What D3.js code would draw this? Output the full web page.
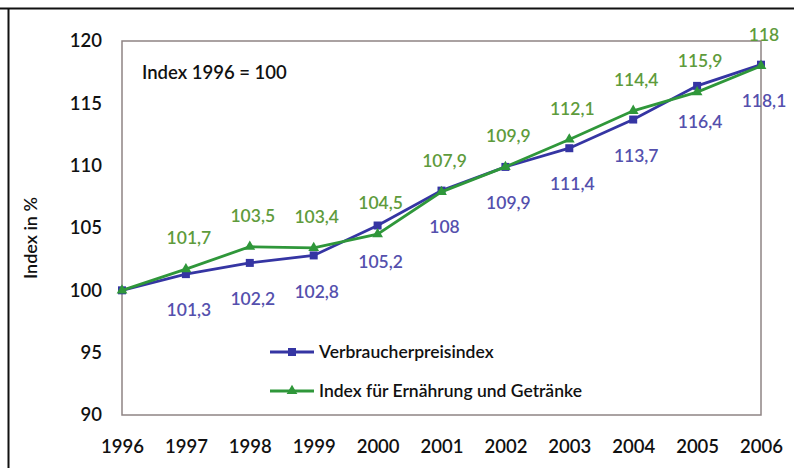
<!DOCTYPE html>
<html lang="de">
<head>
    <meta charset="UTF-8">
    <title>Verbraucherpreisindex 1996-2006</title>
    <script src="https://cdnjs.cloudflare.com/ajax/libs/d3/7.8.5/d3.min.js"></script>
    <style>
        body { margin: 0; background: #fff; }
        svg { display: block; font-family: Lato, "Open Sans", sans-serif; }
    </style>
</head>
<body>
    <svg id="chart" width="794" height="468"></svg>

    <script>
        // Data
        const years = ["1996", "1997", "1998", "1999", "2000", "2001", "2002", "2003", "2004", "2005", "2006"];
        const vpi = [100, 101.3, 102.2, 102.8, 105.2, 108, 109.9, 111.4, 113.7, 116.4, 118.1];
        const food = [100, 101.7, 103.5, 103.4, 104.5, 107.9, 109.9, 112.1, 114.4, 115.9, 118];
        const yTicks = [90, 95, 100, 105, 110, 115, 120];

        const series = [
            { name: "Verbraucherpreisindex", values: vpi, line: "#3535a3", text: "#5450ad", marker: "square", dy: 36 },
            { name: "Index für Ernährung und Getränke", values: food, line: "#2f973a", text: "#5e9b3c", marker: "triangle", dy: -31 }
        ];

        const svg = d3.select("#chart");
        const margin = { top: 41, right: 33, bottom: 53, left: 122 };
        const width = 794 - margin.left - margin.right;
        const height = 468 - margin.top - margin.bottom;

        // outer frame (top and left edge visible)
        svg.append("line").attr("x1", 0).attr("x2", 794).attr("y1", 8.5).attr("y2", 8.5)
            .attr("stroke", "#111").attr("stroke-width", 2);
        svg.append("line").attr("x1", 8.5).attr("x2", 8.5).attr("y1", 8).attr("y2", 468)
            .attr("stroke", "#111").attr("stroke-width", 2);

        const g = svg.append("g").attr("transform", `translate(${margin.left},${margin.top})`);

        const x = d3.scalePoint().domain(years).range([0, width]);
        const y = d3.scaleLinear().domain([90, 120]).range([height, 0]);

        // plot area border
        g.append("rect").attr("width", width).attr("height", height)
            .attr("fill", "none").attr("stroke", "#8e8484").attr("stroke-width", 1.5);

        // y axis labels
        const yAxis = g.append("g").call(d3.axisLeft(y).tickValues(yTicks).tickSize(0).tickPadding(20));
        yAxis.select(".domain").remove();
        yAxis.selectAll("text").attr("font-size", 18.5).attr("fill", "#111")
            .attr("font-family", "Lato").attr("font-weight", 600);

        // x axis labels
        const xAxis = g.append("g").attr("transform", `translate(0,${height})`)
            .call(d3.axisBottom(x).tickSize(0).tickPadding(25));
        xAxis.select(".domain").remove();
        xAxis.selectAll("text").attr("font-size", 18.5).attr("fill", "#111")
            .attr("font-family", "Lato").attr("font-weight", 600);

        // y axis title
        svg.append("text")
            .attr("transform", "translate(37,238) rotate(-90)")
            .attr("text-anchor", "middle")
            .attr("font-size", 18)
            .attr("font-weight", 600)
            .attr("fill", "#111")
            .text("Index in %");

        // note
        g.append("text").attr("x", 20).attr("y", 38)
            .attr("font-size", 18.5).attr("font-weight", 600).attr("fill", "#111")
            .text("Index 1996 = 100");

        const line = d3.line().x((d, i) => x(years[i])).y(d => y(d));

        function drawMarker(sel, type, color) {
            if (type === "square") {
                sel.append("rect").attr("x", -4).attr("y", -4).attr("width", 8).attr("height", 8).attr("fill", color);
            } else {
                sel.append("path").attr("d", d3.symbol(d3.symbolTriangle, 50)()).attr("fill", color);
            }
        }

        series.forEach(s => {
            g.append("path").datum(s.values)
                .attr("d", line)
                .attr("fill", "none")
                .attr("stroke", s.line)
                .attr("stroke-width", 2.8);

            g.selectAll(null).data(s.values).enter().append("g")
                .attr("transform", (d, i) => `translate(${x(years[i])},${y(d)})`)
                .each(function () { drawMarker(d3.select(this), s.marker, s.line); });
        });

        // value labels, the base year has none
        series.forEach(s => {
            g.selectAll(null).data(s.values.slice(1)).enter().append("text")
                .attr("x", (d, i) => x(years[i + 1]) + 3)
                .attr("y", d => y(d) + s.dy)
                .attr("dy", "0.35em")
                .attr("text-anchor", "middle")
                .attr("font-size", 17.5)
                .attr("font-weight", 600)
                .attr("fill", s.text)
                .text(d => String(d).replace(".", ","));
        });

        // legend
        const legend = svg.append("g").attr("transform", "translate(270,352)");
        series.forEach((s, i) => {
            const row = legend.append("g").attr("transform", `translate(0,${i * 39})`);
            row.append("line").attr("x1", 0).attr("x2", 44).attr("stroke", s.line).attr("stroke-width", 2.8);
            const m = row.append("g").attr("transform", "translate(22,0)");
            drawMarker(m, s.marker, s.line);
            row.append("text").attr("x", 49).attr("dy", "0.35em")
                .attr("font-size", 17.5).attr("font-weight", 600).attr("fill", "#111").text(s.name);
        });
    </script>
</body>
</html>
